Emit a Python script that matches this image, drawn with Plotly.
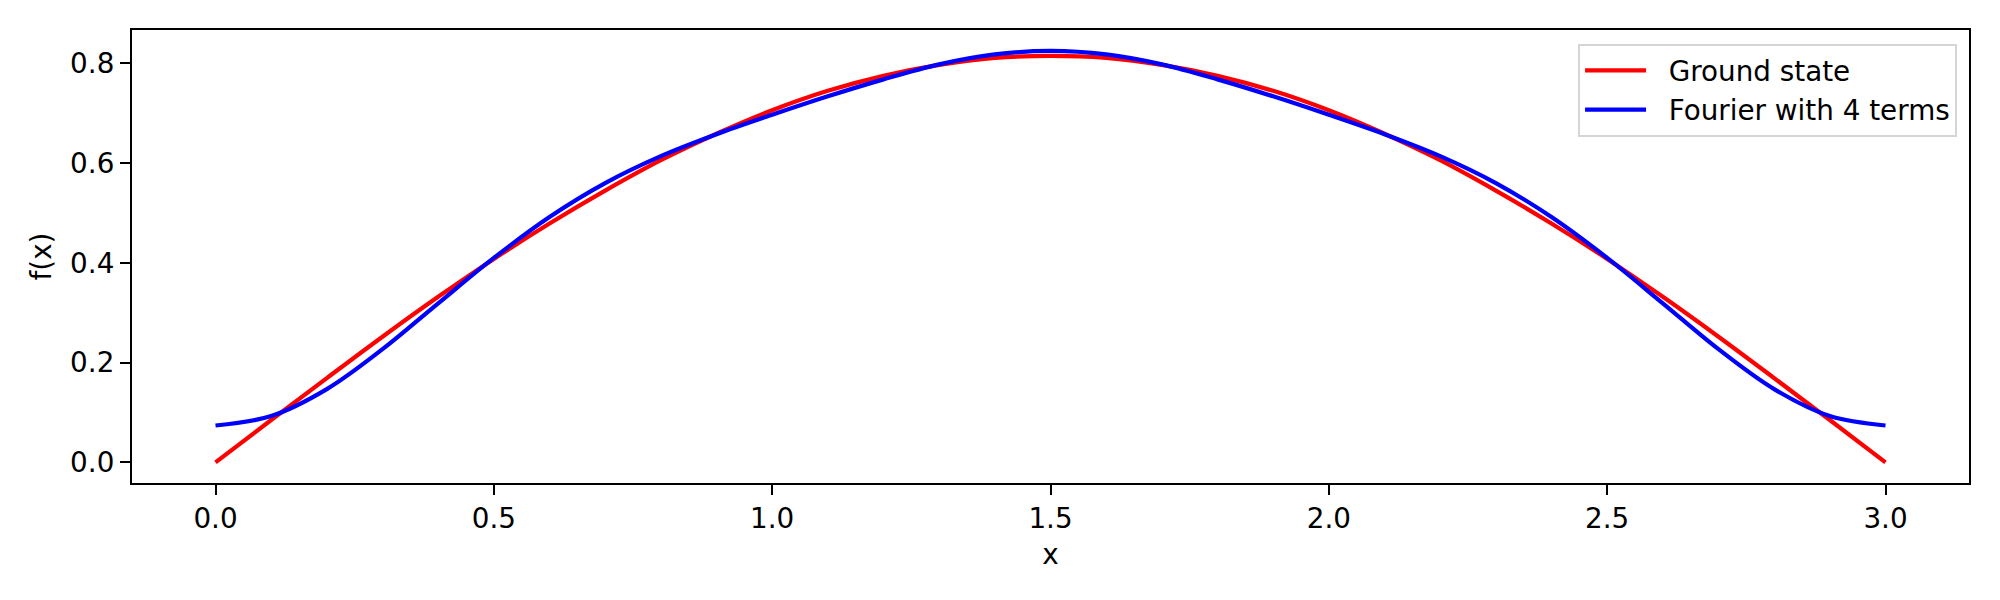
import plotly.graph_objects as go

x_vals = [0.0, 0.1, 0.2, 0.3, 0.4, 0.5, 0.6, 0.7, 0.8, 0.9, 1.0, 1.1, 1.2, 1.3, 1.4, 1.5,
          1.6, 1.7, 1.8, 1.9, 2.0, 2.1, 2.2, 2.3, 2.4, 2.5, 2.6, 2.7, 2.8, 2.9, 3.0]
ground_state = [0.000, 0.085, 0.169, 0.252, 0.332, 0.408, 0.479, 0.545, 0.606, 0.659, 0.706,
                0.745, 0.775, 0.797, 0.811, 0.815,
                0.811, 0.797, 0.775, 0.745, 0.706, 0.659, 0.606, 0.545, 0.479, 0.408,
                0.332, 0.252, 0.169, 0.085, 0.000]
fourier_4 = [0.074, 0.093, 0.147, 0.227, 0.319, 0.410, 0.492, 0.560, 0.614, 0.658, 0.697,
             0.734, 0.768, 0.798, 0.818, 0.825,
             0.818, 0.798, 0.768, 0.734, 0.697, 0.658, 0.614, 0.560, 0.492, 0.410,
             0.319, 0.227, 0.147, 0.093, 0.074]
series_names = ["Ground state", "Fourier with 4 terms"]
x_ticks = [0.0, 0.5, 1.0, 1.5, 2.0, 2.5, 3.0]
y_ticks = [0.0, 0.2, 0.4, 0.6, 0.8]

pad = "\u00a0\u00a0"
fig = go.Figure()
fig.add_trace(go.Scatter(x=x_vals, y=ground_state, mode="lines", name=pad + series_names[0],
                         line=dict(color="#ff0000", width=4.2, shape="spline")))
fig.add_trace(go.Scatter(x=x_vals, y=fourier_4, mode="lines", name=pad + series_names[1],
                         line=dict(color="#0000ff", width=4.2, shape="spline")))

axis_common = dict(showline=True, linecolor="black", linewidth=2.2, mirror=True,
                   ticks="outside", ticklen=10, tickwidth=2.2, tickcolor="black",
                   showgrid=False, zeroline=False, tickformat=".1f")

fig.update_layout(
    width=1984, height=584,
    margin=dict(l=124, r=23, t=22, b=109),
    paper_bgcolor="white", plot_bgcolor="white",
    font=dict(family="DejaVu Sans", size=27.8, color="black"),
    xaxis=dict(range=[-0.15, 3.15], tickvals=x_ticks,
               title=dict(text="x", standoff=10.5, font=dict(size=27.8)), **axis_common),
    yaxis=dict(range=[-0.0413, 0.867], tickvals=y_ticks,
               title=dict(text="f(x)", standoff=10, font=dict(size=27.8)), **axis_common),
    legend=dict(x=0.9935, y=0.9695, xanchor="right", yanchor="top",
                bordercolor="#d5d5d5", borderwidth=2, bgcolor="rgba(255,255,255,0.8)",
                font=dict(size=27.8), itemwidth=61),
    showlegend=True,
)

fig.write_html("out.html")
